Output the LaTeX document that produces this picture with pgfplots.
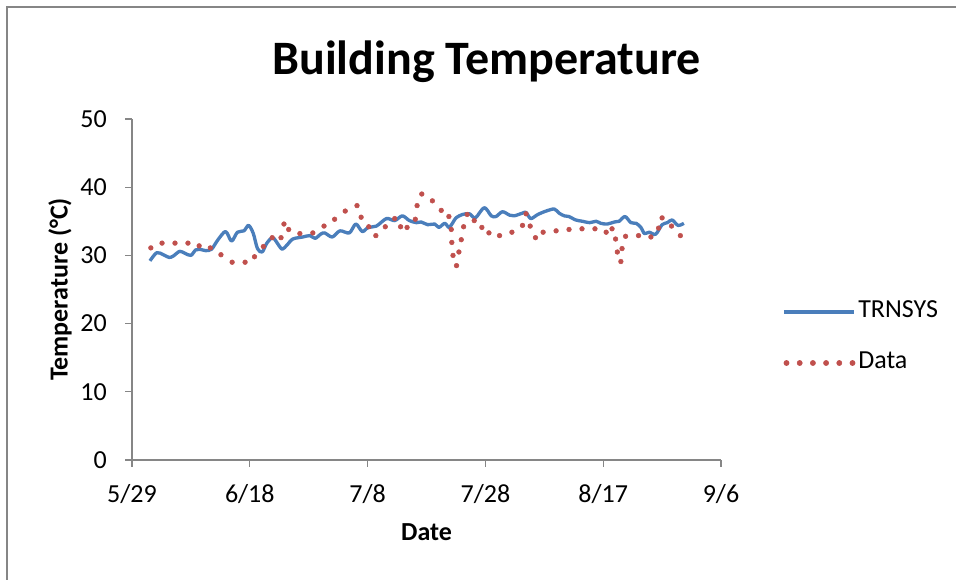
\documentclass[border=0pt]{standalone}
\usepackage{pgfplots}
\pgfplotsset{compat=1.18}
\usepackage{fontspec}
\setmainfont{Carlito}
\definecolor{trnblue}{HTML}{4A7EBB}
\definecolor{datared}{HTML}{C0504D}
\definecolor{axgray}{HTML}{868686}
\begin{document}
\begin{tikzpicture}[x=0.75pt,y=0.75pt]
\path[use as bounding box] (0,0) rectangle (956,580);
\draw[axgray, line width=1.2pt] (6.8,0) -- (6.8,572.7) -- (956,572.7);
\node[anchor=base, font=\fontsize{36}{41}\selectfont\bfseries] at (486.5,505) {Building Temperature};
\begin{axis}[
  at={(99pt,90pt)}, anchor=south west,
  scale only axis, width=441.75pt, height=255.75pt,
  xmin=0, xmax=100, ymin=0, ymax=50,
  axis x line=bottom, axis y line=left,
  axis line style={-, axgray, line width=1pt},
  xtick={0,20,...,100},
  xticklabels={5/29,6/18,7/8,7/28,8/17,9/6},
  ytick={0,10,...,50},
  tick align=outside, major tick length=5.25pt,
  tick style={axgray, line width=1pt},
  /pgf/number format/assume math mode=true,
  tick label style={font=\fontsize{19.5}{23}\selectfont},
  xticklabel style={anchor=base, inner sep=0pt, yshift=-26.75pt},
  yticklabel style={anchor=east, inner sep=0pt, xshift=-13.5pt},
  xlabel={Date},
  ylabel={Temperature (°C)},
  every axis x label/.style={at={(axis description cs:0.5,-0.2367)}, anchor=base,
    font=\fontsize{19.5}{23}\selectfont\bfseries},
  every axis y label/.style={at={(axis description cs:-0.1222,0.5)}, rotate=90, anchor=center,
    font=\fontsize{19.5}{23}\selectfont\bfseries},
  legend style={at={(axis description cs:1.1036,0.3592)}, anchor=west, draw=none, fill=none,
    inner sep=0pt, row sep=20.25pt, column sep=2pt,
    font=\fontsize{19.5}{23}\selectfont,
    nodes={inner sep=0pt, text height=13pt, text depth=5pt}},
  legend cell align=left,
  clip=false,
]
\addplot[trnblue, line width=2.5pt, smooth, tension=0.5, line join=round,
  legend image code/.code={\draw[trnblue, line width=2.5pt] (0pt,0pt) -- (52.5pt,0pt);}]
coordinates {
(3.05,29.2)(4.2,30.4)(5.3,30.1)(6.3,29.7)(7.0,29.9)(8.1,30.6)(9.0,30.3)(10.0,30.0)
(10.8,30.8)(11.5,30.9)(12.5,30.7)(13.5,30.9)(14.6,32.3)(15.9,33.5)(16.9,32.1)(17.9,33.4)
(19.0,33.6)(19.8,34.4)(20.6,33.2)(21.3,31.0)(22.1,30.5)(22.9,31.8)(23.9,32.6)(24.9,31.5)
(25.5,30.9)(26.3,31.5)(27.3,32.4)(29.0,32.7)(30.2,32.9)(31.1,32.5)(32.0,33.1)(32.7,33.3)
(34.0,32.7)(35.3,33.6)(36.9,33.3)(38.0,34.6)(39.1,33.5)(40.1,34.1)(41.5,34.3)(43.2,35.4)
(44.6,35.1)(45.9,35.8)(47.1,35.1)(48.3,34.8)(49.1,34.9)(50.2,34.5)(51.4,34.6)(52.1,34.1)
(53.1,34.7)(53.8,34.1)(54.4,34.7)(55.0,35.5)(56.1,36.0)(57.3,36.1)(58.3,35.5)(59.8,37.0)
(61.0,35.8)(61.8,35.7)(62.9,36.4)(64.1,35.9)(64.9,35.8)(66.3,36.2)(66.9,36.3)(67.7,35.4)
(68.9,36.0)(70.3,36.5)(71.7,36.8)(72.5,36.2)(73.4,35.8)(74.2,35.7)(75.3,35.2)(76.5,35.0)
(77.7,34.8)(78.8,35.0)(79.6,34.7)(80.7,34.6)(81.9,34.9)(82.7,35.0)(83.7,35.7)(84.7,34.8)
(85.6,34.7)(86.4,34.1)(87.0,33.2)(87.8,33.4)(88.9,33.1)(90.0,34.5)(90.9,34.8)(91.7,35.2)
(92.7,34.4)(93.7,34.7)
};
\addlegendentry{TRNSYS}
\addplot[color=datared, only marks, mark=*, mark size=1.75pt,
  mark options={solid, draw=datared, fill=datared, line width=0.4pt},
  legend image code/.code={\foreach \i in {0,...,5}{\fill[datared] (1.9pt+\i*9.9pt,0pt) circle (1.95pt);}}]
coordinates {
(3.2,31.1)(5.1,31.8)(7.3,31.8)(9.5,31.8)(11.4,31.4)(13.3,31.1)(15.1,30.1)(17.0,29.0)
(19.2,29.0)(20.8,29.8)(22.3,31.3)(23.8,32.6)(25.3,32.6)(25.8,34.6)(26.6,33.8)(28.5,33.2)
(30.7,33.3)(32.6,34.3)(34.4,35.3)(36.2,36.5)(38.2,37.3)(38.9,35.6)(40.2,34.2)(41.4,32.9)
(43.0,34.2)(44.6,35.4)(45.6,34.2)(46.7,34.1)(48.1,35.3)(48.4,37.3)(49.2,39.0)(51.0,38.0)
(52.5,36.6)(53.8,35.7)(54.2,33.8)(54.3,31.9)(54.5,30.0)(55.1,28.5)(55.5,30.5)(55.9,32.3)
(56.3,34.2)(56.9,36.0)(58.1,35.1)(59.4,34.1)(60.6,33.3)(62.4,32.9)(64.5,33.4)(66.3,34.4)
(66.9,36.1)(67.6,34.3)(68.5,32.6)(69.8,33.4)(72.0,33.6)(74.2,33.8)(76.4,33.9)(78.6,33.9)
(80.5,33.4)(81.5,33.9)(82.1,32.4)(82.4,30.5)(83.0,29.1)(83.2,31.0)(83.8,32.8)(86.0,32.9)
(88.1,32.7)(89.4,34.0)(90.0,35.5)(91.6,34.3)(93.1,32.9)
};
\addlegendentry{Data}
\end{axis}
\end{tikzpicture}
\end{document}
